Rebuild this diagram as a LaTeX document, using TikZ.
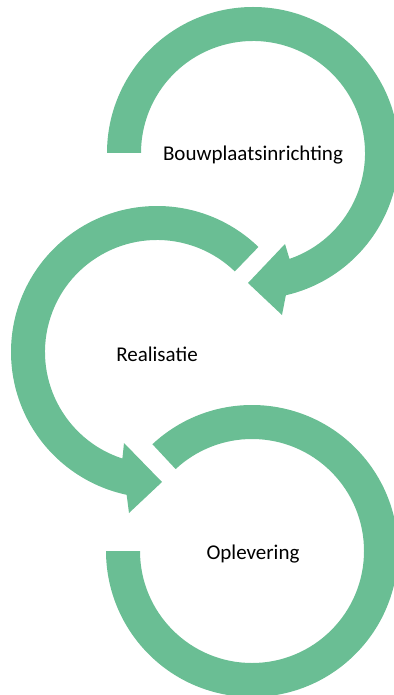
\documentclass[tikz,border=0pt]{standalone}
\usepackage{fontspec}
\setmainfont{Carlito}
\usepackage{xcolor}
\usepackage{tikz}
\usetikzlibrary{calc}

\definecolor{procgreen}{RGB}{106,190,148}

\begin{document}
\begin{tikzpicture}[x=0.5pt,y=-0.5pt,
  band/.style={fill=procgreen,draw=none},
  phase/.style={font=\fontsize{10.5}{12.5}\selectfont,text=black,inner sep=0pt}]
 \useasboundingbox (0,0) rectangle (393,695);

 \coordinate (c1) at (253,153);
 \coordinate (c2) at (157,352);
 \coordinate (c3) at (252,551);

 \node[phase] (bouw) at (253,155) {Bouwplaatsinrichting};
 \node[phase] (real) at (157,354) {Realisatie};
 \node[phase] (oplev) at (253,554) {Oplevering};

 % first arrow, clockwise from the left
 \fill[band] ($(c1)+(180:146)$) arc (180:437:146)
  -- (282,315) -- (248,283) -- (285,244)
  -- ($(c1)+(431:112)$) arc (431:180:112) -- cycle;

 % second arrow, counterclockwise
 \fill[band] ($(c2)+(314:146)$) arc (314:102:146)
  -- (129,513) -- (162,482) -- (124,443)
  -- ($(c2)+(108:112)$) arc (108:314:112) -- cycle;

 % last band, no head
 \fill[band] ($(c3)+(227:146)$) arc (227:540:146)
  -- ($(c3)+(540:112)$) arc (540:227:112) -- cycle;
\end{tikzpicture}
\end{document}
